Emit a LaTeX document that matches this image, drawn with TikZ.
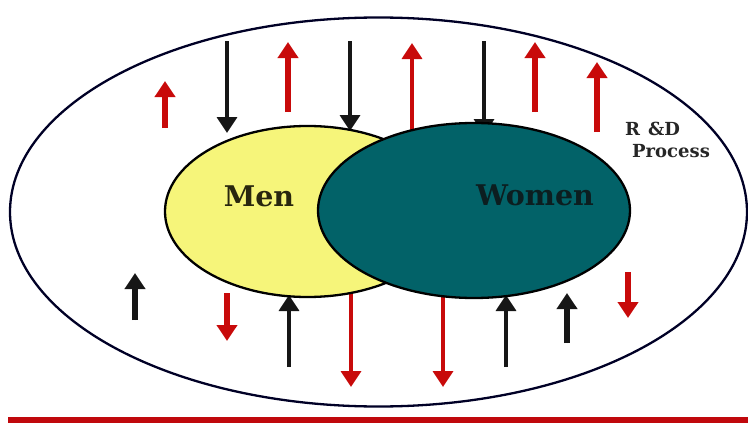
\documentclass[tikz,border=0pt]{standalone}
\usepackage{fontspec}
\newfontfamily\lblfont{DejaVu Serif}
\usetikzlibrary{arrows.meta,shapes.geometric}
\definecolor{menyellow}{RGB}{246,245,122}
\definecolor{womteal}{RGB}{2,98,104}
\definecolor{arrred}{RGB}{200,10,10}
\definecolor{arrblack}{RGB}{22,22,22}
\definecolor{barred}{RGB}{192,8,12}
\tikzset{
  tipA/.style={-{Triangle[width=20pt,length=16pt]}},
  redthick/.style={tipA, draw=arrred, fill=arrred, line width=5.5pt},
  redthin/.style={tipA, draw=arrred, fill=arrred, line width=3.5pt},
  blkthick/.style={tipA, draw=arrblack, fill=arrblack, line width=5.5pt},
  blkthin/.style={tipA, draw=arrblack, fill=arrblack, line width=3.5pt},
  blob/.style={ellipse, draw=black, line width=2.3pt, inner sep=0pt},
  bigtxt/.style={font=\lblfont\bfseries\fontsize{28.5}{30}\selectfont, anchor=base, inner sep=0pt},
  smalltxt/.style={font=\lblfont\bfseries\fontsize{18}{20}\selectfont, text=black!85, anchor=base west, inner sep=0pt}
}
\begin{document}
\begin{tikzpicture}[x=1pt,y=-1pt]
\useasboundingbox (0,0) rectangle (748,423);
% outer R&D ellipse
\node[ellipse, draw=black!85!blue, line width=2.3pt, minimum width=737pt, minimum height=389pt, inner sep=0pt] (outer) at (378.5,212) {};
% red bar at bottom
\fill[barred] (8,417) rectangle (748,423);
% top arrows
\draw[redthick] (165,128) -- (165,81);
\draw[blkthin]  (227,41) -- (227,133);
\draw[redthick] (288,112) -- (288,42);
\draw[blkthin]  (350,41) -- (350,131);
\draw[redthin]  (412,131) -- (412,43);
\draw[blkthin]  (484,41) -- (484,135);
\draw[redthick] (535,112) -- (535,42);
\draw[redthick] (597,132) -- (597,62);
% bottom arrows
\draw[blkthick] (135,320) -- (135,273);
\draw[redthick] (227,293) -- (227,341);
\draw[blkthin]  (289,367) -- (289,295);
\draw[redthin]  (351,292) -- (351,387);
\draw[redthin]  (443,294) -- (443,387);
\draw[blkthin]  (506,367) -- (506,295);
\draw[blkthick] (567,343) -- (567,293);
\draw[redthick] (628,272) -- (628,318);
% Venn ellipses
\node[blob, fill=menyellow, minimum width=285pt, minimum height=171pt] (men) at (307.5,211.5) {};
\node[blob, fill=womteal, minimum width=312pt, minimum height=175pt] (women) at (474,210.5) {};
% labels
\node[bigtxt, text={rgb,255:red,40;green,38;blue,14}] (mentxt) at (259,206) {Men};
\node[bigtxt, text={rgb,255:red,12;green,30;blue,32}] (womtxt) at (535,205) {Women};
\node[smalltxt] (rd) at (625,135) {R\hspace{0.45em}\&D};
\node[smalltxt] (proc) at (632,157) {Process};
\end{tikzpicture}
\end{document}
